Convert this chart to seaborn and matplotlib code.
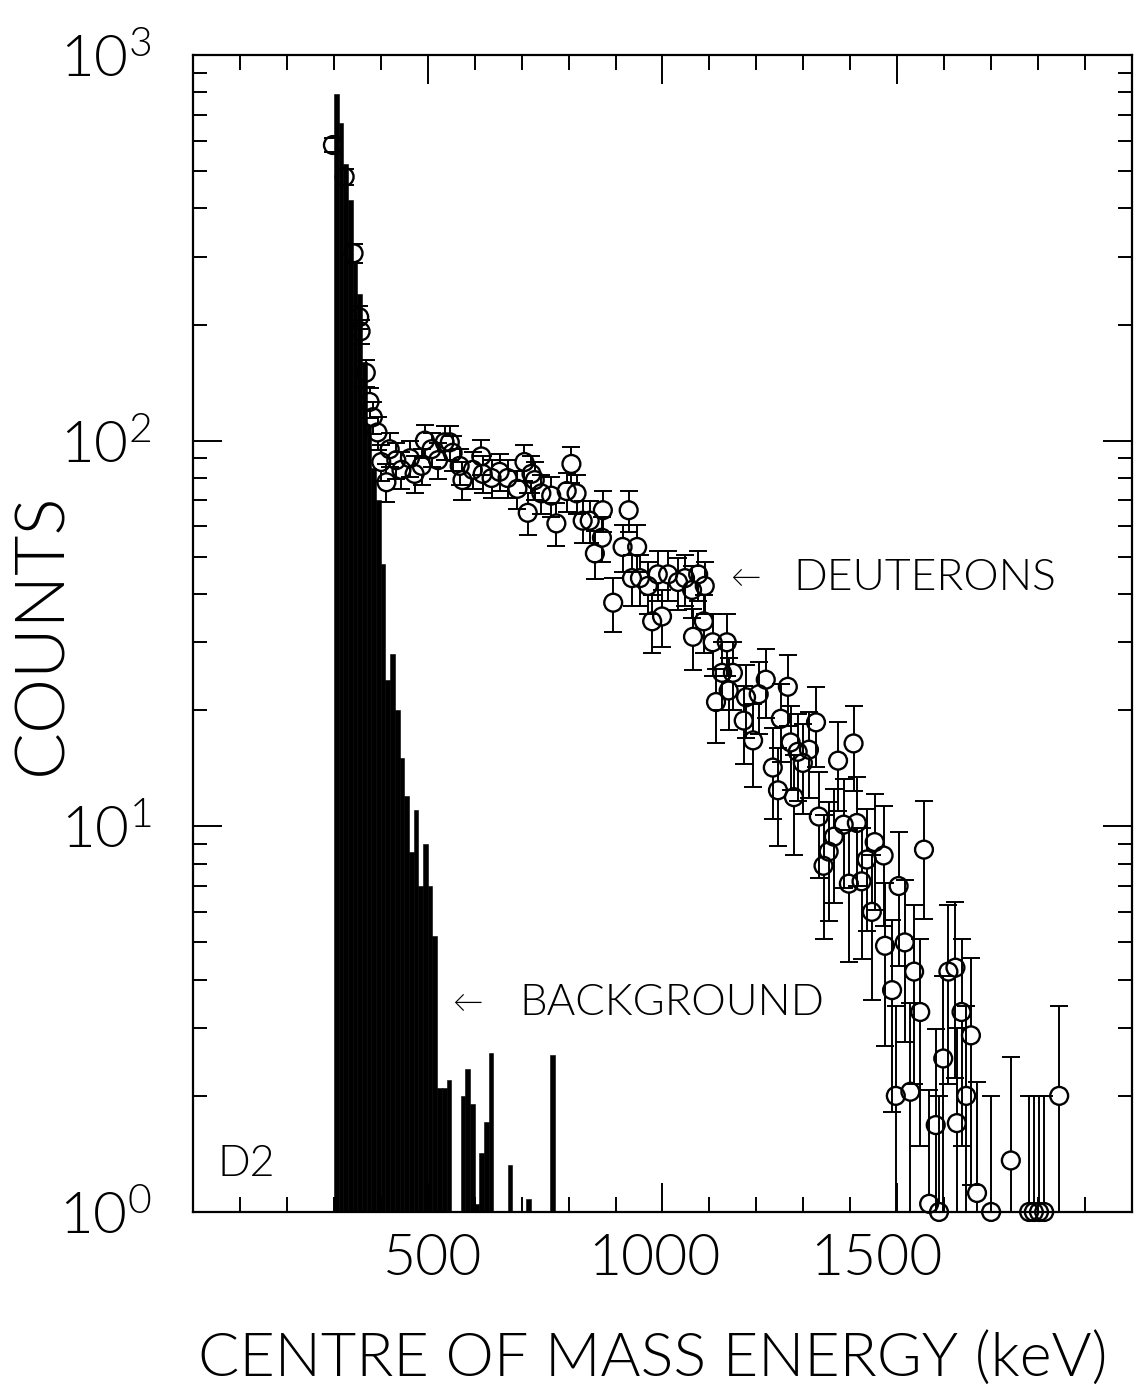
import numpy as np
import pandas as pd
import matplotlib
matplotlib.use("Agg")
import matplotlib.pyplot as plt
import seaborn as sns
from matplotlib.ticker import FixedLocator, MultipleLocator, LogLocator, NullFormatter
from matplotlib.transforms import ScaledTranslation

# Background spectrum: 10 keV channels starting at 300 keV
bg_start_kev = 300
bg_bin_kev = 10
bg_counts = [790, 665, 520, 420, 290, 240, 160, 110, 85, 70,
             48, 24, 28, 20, 15, 12, 8.6, 11, 7.0, 9.0,
             7.0, 5.2, 2.1, 2.1, 2.2, 0, 0, 2.0, 2.35, 1.9,
             1.05, 1.42, 1.71, 2.58, 0, 0, 0, 1.32, 0, 0,
             0, 1.08, 0, 0, 0, 0, 2.55]

# Deuteron spectrum (centre-of-mass energy in keV, counts)
deut_energy = [298, 323, 342, 354, 357, 368, 376, 383, 393,
               401, 412, 419, 433, 444, 462, 472, 487, 494, 508,
               522, 536, 547, 553, 568, 574, 596, 614, 617, 636,
               653, 670, 691, 706, 713, 721, 728, 742, 763, 774,
               796, 806, 817, 830, 845, 856, 871, 873, 895, 915,
               928, 935, 946, 952, 969, 978, 990, 999, 1012, 1033,
               1048, 1063, 1065, 1076, 1090, 1088, 1107, 1127, 1137, 1150,
               1114, 1141, 1173, 1178, 1193, 1205, 1220, 1235, 1246, 1252,
               1267, 1273, 1280, 1288, 1299, 1312, 1327, 1333, 1354, 1343,
               1365, 1374, 1386, 1397, 1407, 1414, 1424, 1435, 1446, 1452,
               1471, 1474, 1489, 1497, 1503, 1516, 1528, 1536, 1549, 1557,
               1568, 1582, 1589, 1598, 1609, 1624, 1627, 1637, 1647, 1657,
               1670, 1700, 1742, 1781, 1791, 1802, 1813, 1845]
deut_counts = [584, 483, 306, 209, 192, 150, 126, 115, 105,
               88, 78, 95, 89, 84, 90, 82, 86, 100, 95,
               89, 99, 99, 93, 86, 79, 84, 91, 82, 80,
               83, 80, 75, 88, 65, 82, 79, 73, 72, 61,
               74, 87, 73, 62, 62, 51, 56, 66, 38, 53,
               66, 44, 53, 44, 42, 34, 45, 35, 45, 43,
               44, 41, 31, 45, 42, 34, 30, 25, 30, 25,
               21, 22.5, 18.8, 21.6, 16.7, 22, 24, 14.2, 12.4, 19,
               23, 16.5, 11.9, 15.6, 14.6, 15.8, 18.6, 10.6, 8.6, 7.9,
               9.4, 14.8, 10.1, 7.1, 16.4, 10.2, 7.2, 8.2, 6.0, 9.1,
               8.4, 4.9, 3.76, 2.0, 7.0, 5.0, 2.05, 4.2, 3.3, 8.7,
               1.05, 1.68, 1.0, 2.5, 4.2, 4.3, 1.7, 3.3, 2.0, 2.87,
               1.12, 1.0, 1.36, 1.0, 1.0, 1.0, 1.0, 2.0]

x_ticks = [500, 1000, 1500]
x_tick_labels = ["500", "1000", "1500"]
y_ticks = [1, 10, 100, 1000]
y_tick_labels = [r"$10^{0}$", r"$10^{1}$", r"$10^{2}$", r"$10^{3}$"]

sns.set_theme(style="ticks")
plt.rcParams["font.family"] = ["Lato", "DejaVu Sans"]
plt.rcParams["font.weight"] = 300
plt.rcParams["axes.labelweight"] = 300
plt.rcParams["mathtext.fontset"] = "custom"
plt.rcParams["mathtext.rm"] = "Lato:weight=300"
plt.rcParams["mathtext.default"] = "rm"
for key in ("text.color", "axes.labelcolor", "xtick.color", "ytick.color",
            "xtick.labelcolor", "ytick.labelcolor"):
    plt.rcParams[key] = "black"

fig = plt.figure(figsize=(11.34, 13.91), dpi=100)
ax = fig.add_axes([0.1702, 0.1287, 0.8280, 0.8318])

# Background as a filled histogram
edges = [float(bg_start_kev + bg_bin_kev * i) for i in range(len(bg_counts) + 1)]
bg = pd.DataFrame({"energy": [e + bg_bin_kev / 2 for e in edges[:-1]],
                   "counts": bg_counts})
sns.histplot(data=bg, x="energy", weights="counts", bins=edges, element="bars",
             fill=True, color="black", alpha=1, edgecolor="black", linewidth=0.4,
             ax=ax, zorder=2)

ax.set_yscale("log")
ax.set_xlim(0, 2000)
ax.set_ylim(1, 1000)

# Deuteron points with Poisson error bars stopping at the circle edge
deut = pd.DataFrame({"energy": deut_energy, "counts": deut_counts})
err = np.sqrt(deut["counts"])
ring = 10 ** (8.5 / 385.7)
upper = deut["counts"] + err
lower = deut["counts"] - err
ax.vlines(deut["energy"], deut["counts"] * ring, upper, color="black", lw=1.4, zorder=3)
ax.vlines(deut["energy"], np.clip(lower, 1e-3, None), deut["counts"] / ring,
          color="black", lw=1.4, zorder=3)
ax.plot(deut["energy"], upper, ls="none", marker="_", ms=13, mew=1.4, color="black", zorder=3)
ok = lower > 0.05
ax.plot(deut["energy"][ok], lower[ok], ls="none", marker="_", ms=13, mew=1.4,
        color="black", zorder=3)
sns.scatterplot(data=deut, x="energy", y="counts", marker="o", s=165,
                facecolors="none", edgecolor="black", linewidth=1.7,
                ax=ax, clip_on=False, zorder=4)

# Axes, ticks and labels
for sp in ax.spines.values():
    sp.set_visible(True)
    sp.set_linewidth(1.6)
    sp.set_color("black")
ax.xaxis.set_major_locator(FixedLocator(x_ticks))
ax.set_xticklabels(x_tick_labels)
ax.xaxis.set_minor_locator(MultipleLocator(100))
ax.set_yticks(y_ticks)
ax.set_yticklabels(y_tick_labels)
ax.yaxis.set_minor_locator(LogLocator(base=10, subs=np.arange(2, 10)))
ax.yaxis.set_minor_formatter(NullFormatter())
ax.tick_params(which="both", direction="in", top=True, right=True,
               color="black", width=1.4)
ax.tick_params(axis="x", which="major", length=21, labelsize=41, pad=16)
ax.tick_params(axis="x", which="minor", length=10.5)
ax.tick_params(axis="y", which="major", length=21, labelsize=42, pad=30)
ax.tick_params(axis="y", which="minor", length=10)

# nudge the energy labels to where they were typeset
for lab, dx in zip(ax.get_xticklabels(), [5, -8, -21]):
    lab.set_transform(lab.get_transform() + ScaledTranslation(dx / 100, 0, fig.dpi_scale_trans))

ax.set_xlabel("CENTRE OF MASS ENERGY (keV)", fontsize=44)
ax.set_ylabel("COUNTS", fontsize=50)
ax.xaxis.set_label_coords(0.49, -0.104)
ax.yaxis.set_label_coords(-0.127, 0.5)

ax.text(1177, 44, "\u2190", fontsize=22, ha="center", va="center")
ax.text(1279, 44, "DEUTERONS", fontsize=32, ha="left", va="center")
ax.text(585, 3.48, "\u2190", fontsize=22, ha="center", va="center")
ax.text(696, 3.48, "BACKGROUND", fontsize=31.5, ha="left", va="center")
ax.text(53, 1.324, "D2", fontsize=31, ha="left", va="center")

fig.savefig("out.png", dpi=100, facecolor="white")
